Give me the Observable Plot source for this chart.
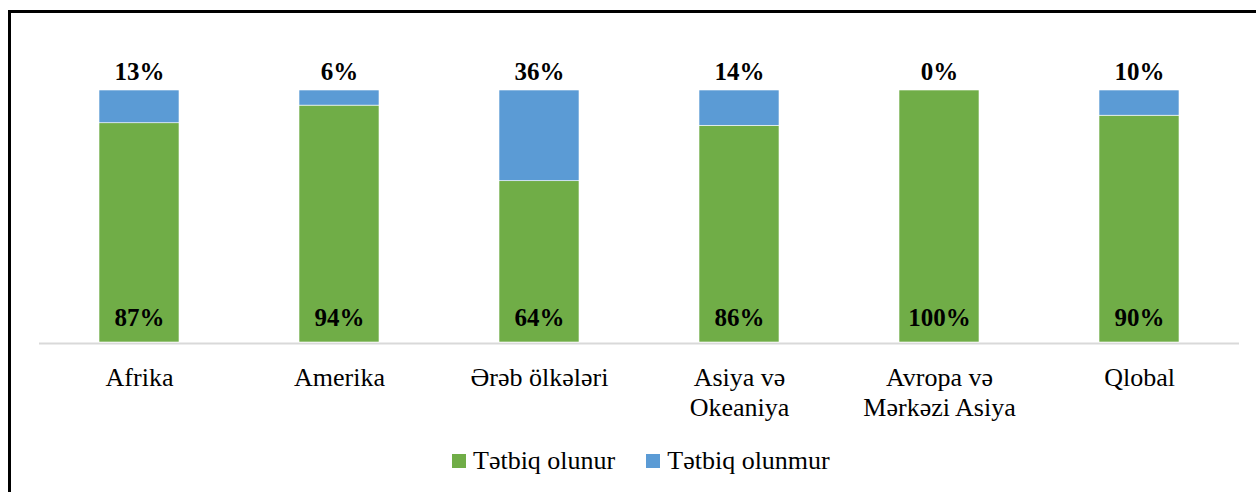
<!DOCTYPE html>
<html>
<head>
<meta charset="utf-8">
<script src="https://cdn.jsdelivr.net/npm/d3@7"></script>
<script src="https://cdn.jsdelivr.net/npm/@observablehq/plot@0.6"></script>
<style>
  html, body { margin: 0; padding: 0; width: 1256px; height: 492px; overflow: hidden; background: #fff; }
  #frame { position: absolute; left: 8px; top: 10px; width: 1300px; height: 600px; border: 3px solid #000; box-sizing: border-box; }
  #chart { position: absolute; left: 0; top: 0; }
  #legend { position: absolute; left: 452px; top: 446px; display: flex; align-items: center; font-family: "Liberation Serif", "Times New Roman", serif; font-size: 26px; color: #000; }
  .sw { width: 14px; height: 14px; display: inline-block; margin-right: 7px; }
  .item { display: flex; align-items: center; margin-right: 31px; }
</style>
</head>
<body>
<div id="frame"></div>
<div id="chart"></div>
<div id="legend"></div>
<script>
const categories = ["Afrika", "Amerika", "Ərəb ölkələri", "Asiya və\nOkeaniya", "Avropa və\nMərkəzi Asiya", "Qlobal"];
const applied = [87, 94, 64, 86, 100, 90];
const notApplied = [13, 6, 36, 14, 0, 10];
const seriesNames = ["Tətbiq olunur", "Tətbiq olunmur"];
const seriesColors = ["#70ad47", "#5b9bd5"];

const rows = [];
categories.forEach((c, i) => {
  rows.push({cat: c, series: seriesNames[0], value: applied[i]});
  rows.push({cat: c, series: seriesNames[1], value: notApplied[i]});
});
const topLabels = categories.map((c, i) => ({cat: c, value: notApplied[i]}));
const bottomLabels = categories.map((c, i) => ({cat: c, value: applied[i]}));

const chart = Plot.plot({
  width: 1256,
  height: 430,
  marginLeft: 39,
  marginRight: 17,
  marginTop: 90,
  marginBottom: 88,
  style: {fontFamily: "'Liberation Serif', 'Times New Roman', serif", background: "transparent"},
  x: {domain: categories, paddingInner: 0.6, paddingOuter: 0.3, label: null},
  y: {domain: [0, 100], axis: null},
  color: {domain: seriesNames, range: seriesColors},
  marks: [
    Plot.ruleY([0], {stroke: "#d9d9d9", strokeWidth: 2, dy: 1}),
    Plot.barY(rows, {x: "cat", y: "value", fill: "series", stroke: "#ffffff", strokeWidth: 0.6, order: seriesNames}),
    Plot.text(bottomLabels, {x: "cat", y: 0, text: d => d.value + "%", dy: -25, fontSize: 25, fontWeight: "bold", fill: "#000"}),
    Plot.text(topLabels, {x: "cat", y: 100, text: d => d.value + "%", dy: -19, fontSize: 25, fontWeight: "bold", fill: "#000"}),
    Plot.axisX({tickSize: 0, tickPadding: 22, fontSize: 26, lineHeight: 1.15, label: null, fill: "#000", color: "#000"})
  ]
});
chart.style.fontSize = "26px";
document.getElementById("chart").appendChild(chart);

const legend = document.getElementById("legend");
seriesNames.forEach((n, i) => {
  const item = document.createElement("div");
  item.className = "item";
  const sw = document.createElement("span");
  sw.className = "sw";
  sw.style.background = seriesColors[i];
  const t = document.createElement("span");
  t.textContent = n;
  item.appendChild(sw);
  item.appendChild(t);
  legend.appendChild(item);
});
</script>
</body>
</html>
